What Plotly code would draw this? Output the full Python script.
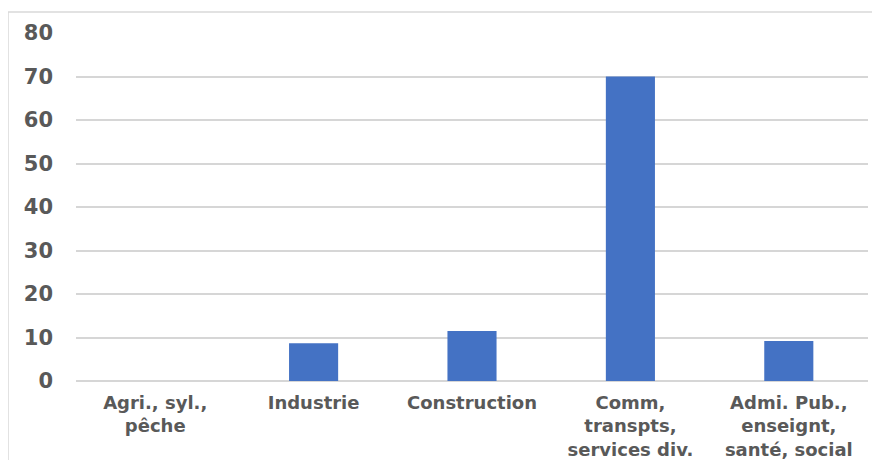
import plotly.graph_objects as go

categories = ["Agri., syl.,<br>pêche", "Industrie", "Construction",
              "Comm,<br>transpts,<br>services div.", "Admi. Pub.,<br>enseignt,<br>santé, social"]
values = [0, 8.7, 11.5, 70, 9.2]
y_ticks = [0, 10, 20, 30, 40, 50, 60, 70, 80]

# page body has an 8px offset; target plot area x 76..868, y 33..381
OFF = 8
W, H = 880, 460
L, R, T, B = 76 - OFF, 12 + OFF, 33 - OFF, 79 + OFF
pw, ph = W - L - R, H - T - B

fig = go.Figure(go.Bar(x=categories, y=values, marker=dict(color="#4472C4", line=dict(width=0)),
                       width=0.31))

fig.update_layout(
    width=W, height=H,
    margin=dict(l=L, r=R, t=T, b=B, autoexpand=False),
    paper_bgcolor="white", plot_bgcolor="white",
    font=dict(family="DejaVu Sans, sans-serif", color="#595959"),
    showlegend=False,
    xaxis=dict(showgrid=False, showline=False, ticks="", ticklabelstandoff=9,
               tickfont=dict(size=18, family="DejaVu Sans", weight="bold", color="#595959")),
    yaxis=dict(range=[0, 80], tickvals=y_ticks, showgrid=True, gridcolor="#D6D6D6", gridwidth=1.5,
               zeroline=True, zerolinecolor="#D6D6D6", zerolinewidth=1.5, showline=False,
               ticks="", ticklabelstandoff=22,
               tickfont=dict(size=21, family="DejaVu Sans", weight="bold", color="#595959")),
    shapes=[dict(type="rect", xref="paper", yref="paper",
                 x0=(8 - OFF - L) / pw, x1=(W + 10 - L) / pw,
                 y0=-(H + 10 - (H - B)) / ph, y1=((H - B) - (12 - OFF)) / ph,
                 line=dict(color="#D9D9D9", width=1.5), fillcolor="rgba(0,0,0,0)", layer="below")],
)

fig.write_html("out.html")
